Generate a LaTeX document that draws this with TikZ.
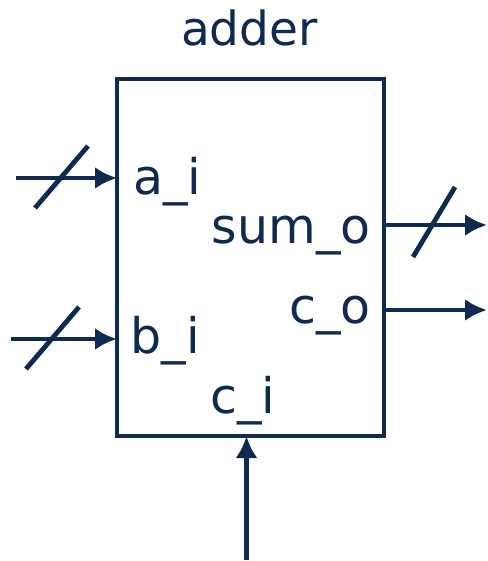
\documentclass[tikz,border=0pt]{standalone}
\usepackage{fontspec}
\setmainfont{DejaVu Sans}
\usepackage{tikz}
\usetikzlibrary{calc}
\usetikzlibrary{positioning}
\usetikzlibrary{arrows.meta}
\definecolor{navy}{RGB}{14,42,80}

\begin{document}
\begin{tikzpicture}[line width=4.8pt, draw=navy, text=navy, sig/.style={-{Latex[length=22pt,width=22pt]}}, block/.style={rectangle,draw,minimum width=267pt,minimum height=357pt,inner sep=0pt,outer sep=0pt}, port/.style={inner sep=0pt,font=\fontsize{49}{53}\selectfont}, ]

 \useasboundingbox (0pt,0pt) rectangle (487pt,-561pt);

 \node[block] (box) at (250.5pt,-257.5pt) {};
 \node[anchor=base,inner sep=0pt,font=\fontsize{47}{52}\selectfont] (title) at (249.5pt,-46pt) {adder};

 \node[port,anchor=base west] (a) at (131pt,-195pt) {a\_i};
 \node[port,anchor=base west] (b) at (128pt,-353pt) {b\_i};
 \node[port,anchor=base east] (sum) at (373pt,-243pt) {sum\_o};
 \node[port,anchor=base east] (co) at (373pt,-323pt) {c\_o};
 \node[port,anchor=base west] (ci) at (208pt,-413pt) {c\_i};

 \coordinate (ain) at (16pt,-178pt);
 \coordinate (bin) at (11pt,-339pt);
 \coordinate (sumout) at (487pt,-225pt);
 \coordinate (coout) at (487pt,-310pt);
 \coordinate (ciin) at (246.5pt,-560pt);

 \draw[sig] (ain) -- (ain -| box.west);
 \draw[sig] (bin) -- (bin -| box.west);
 \draw[sig] (sumout -| box.east) -- (sumout);
 \draw[sig] (coout -| box.east) -- (coout);
 \draw[sig] (ciin) -- (ciin |- box.south);

 % bus slashes
 \draw (35pt,-208pt) -- (88pt,-146pt);
 \draw (26pt,-369pt) -- (79pt,-307pt);
 \draw (413pt,-257pt) -- (455pt,-187pt);

\end{tikzpicture}
\end{document}
